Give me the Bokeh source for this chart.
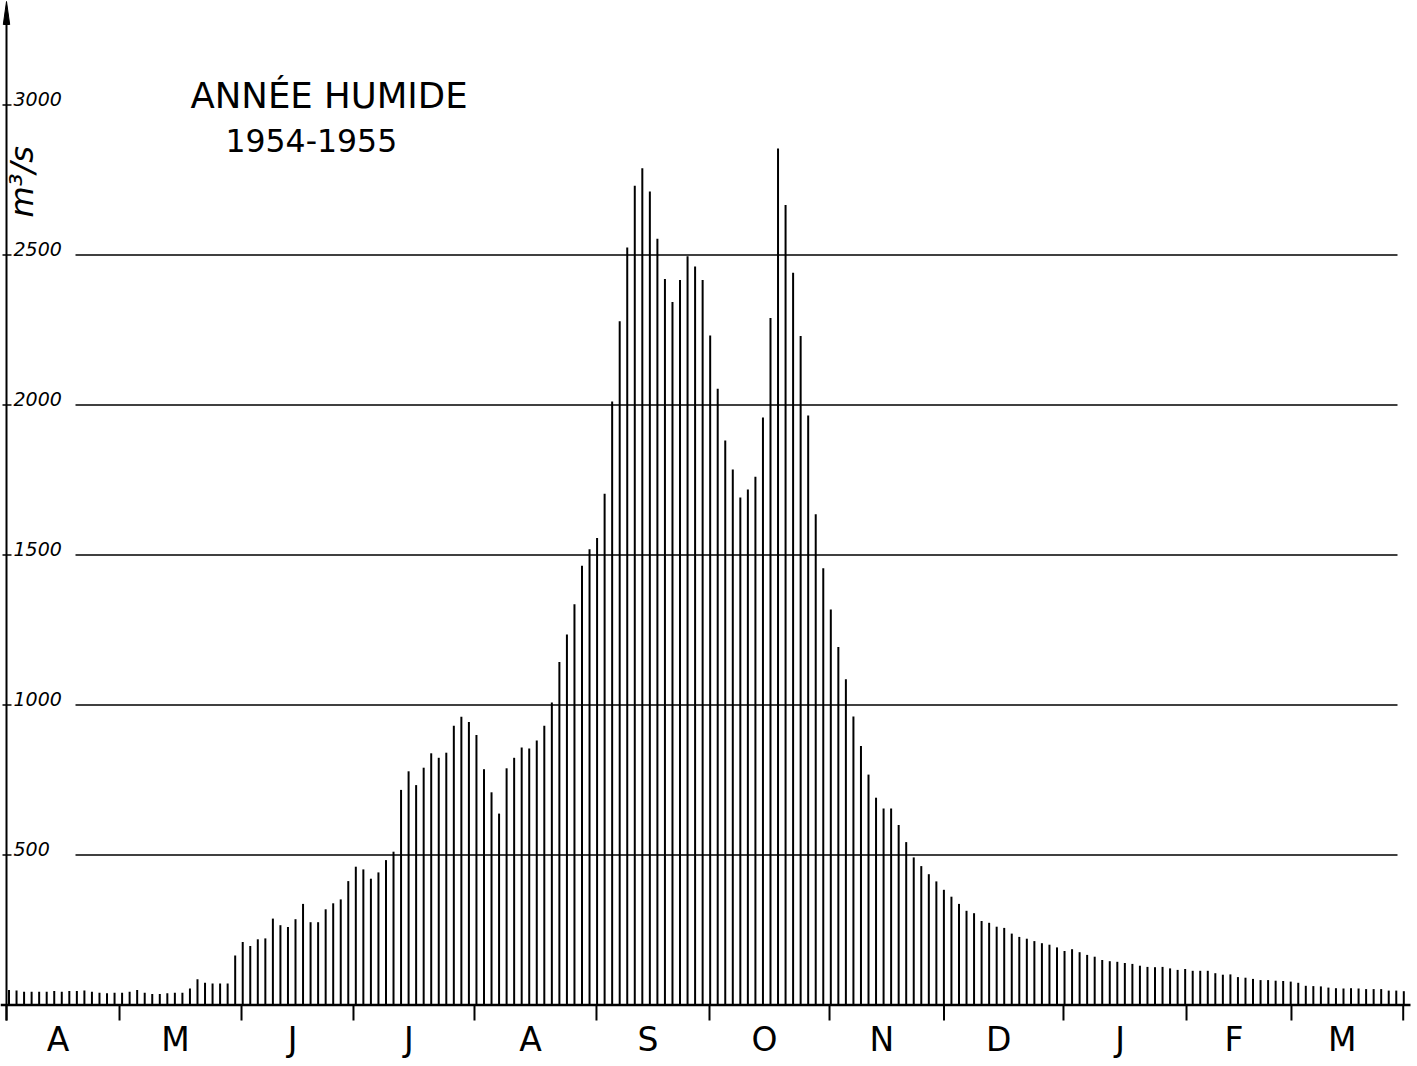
import math
from bokeh.plotting import figure
from bokeh.models import Range1d
from bokeh.core.properties import value
from bokeh.embed import file_html
from bokeh.resources import INLINE

# ---------------- data ----------------
# discharge in m3/s, one bar every 2 days, April 1954 -> March 1955
flows = [
    50, 48, 44, 44, 44, 44, 47, 44, 47, 47,
    48, 44, 41, 39, 41, 41, 44, 50, 41, 37,
    37, 39, 41, 41, 55, 86, 74, 72, 72, 72,
    165, 210, 197, 219, 222, 288, 266, 260, 286, 337,
    276, 276, 319, 339, 352, 413, 461, 452, 421, 442,
    483, 511, 717, 779, 733, 791, 839, 824, 841, 931,
    961, 943, 900, 786, 709, 638, 789, 824, 858, 855,
    882, 931, 1008, 1143, 1235, 1336, 1464, 1519, 1557, 1704,
    2012, 2279, 2525, 2731, 2789, 2712, 2554, 2420, 2343, 2417,
    2496, 2462, 2417, 2232, 2054, 1882, 1785, 1692, 1718, 1761,
    1958, 2290, 2855, 2667, 2441, 2230, 1965, 1636, 1456, 1318,
    1193, 1086, 962, 863, 768, 691, 655, 655, 600, 543,
    492, 463, 436, 412, 384, 361, 337, 314, 306, 280,
    274, 261, 257, 238, 227, 221, 213, 206, 201, 192,
    180, 186, 176, 167, 161, 150, 146, 144, 140, 137,
    131, 127, 126, 127, 122, 117, 120, 114, 114, 114,
    106, 101, 102, 93, 91, 87, 83, 83, 81, 80,
    78, 74, 64, 63, 62, 58, 56, 55, 56, 55,
    53, 53, 53, 48, 48, 46,
]
bar_index = list(range(len(flows)))

month_labels = ["A", "M", "J", "J", "A", "S", "O", "N", "D", "J", "F", "M"]
# month boundaries, in bar-index units
month_bounds = [-0.33, 14.66, 30.84, 45.69, 61.74, 77.92, 92.91,
                108.83, 124.01, 139.86, 156.18, 170.10, 184.92]

y_ticks = [500, 1000, 1500, 2000, 2500, 3000]
grid_values = [500, 1000, 1500, 2000, 2500]
y_tick_labels = [str(v) for v in y_ticks]

title_line1 = "ANNÉE HUMIDE"
title_line2 = "1954-1955"
unit_label = "m³/s"

# ---------------- layout ----------------
W, H = 1412, 1062
X0_PX = 8.5         # page x of the first bar
DX_PX = 7.5395      # page px between bars
Y0_PX = 1004.5      # page y of zero discharge
PX_PER_UNIT = 0.3   # page px per m3/s


def px_x(px):
    return (px - X0_PX) / DX_PX


def px_v(py):
    return (Y0_PX - py) / PX_PER_UNIT


FONT = value("DejaVu Sans")
INK = "black"

p = figure(width=W, height=H, output_backend="svg", toolbar_location=None,
           x_range=Range1d(px_x(0), px_x(W)),
           y_range=Range1d(px_v(H), px_v(0)),
           x_axis_type=None, y_axis_type=None, min_border=0)
p.outline_line_color = None
p.background_fill_color = "white"
p.border_fill_color = "white"

axis_x = px_x(6.0)
n_grid = len(grid_values)
n_tick = len(y_ticks)
n_mon = len(month_bounds)

# horizontal grid lines (start after the labels)
p.segment(x0=[px_x(75)] * n_grid, x1=[px_x(1397)] * n_grid,
          y0=grid_values, y1=grid_values, line_color=INK, line_width=1.4)

# bars
p.segment(x0=bar_index, y0=[0] * len(flows), x1=bar_index, y1=flows,
          line_color=INK, line_width=2)

# baseline
p.segment(x0=[px_x(0)], x1=[px_x(1410)], y0=[0], y1=[0],
          line_color=INK, line_width=2.6)

# month boundary ticks
p.segment(x0=month_bounds, x1=month_bounds, y0=[0] * n_mon,
          y1=[px_v(1020)] * n_mon, line_color=INK, line_width=2)

# month labels centred in each month (y = middle of the capitals)
centers = [(month_bounds[k] + month_bounds[k + 1]) / 2 for k in range(len(month_labels))]
p.text(x=centers, y=[px_v(1039)] * len(centers), text=month_labels,
       text_font=FONT, text_font_size="33px", text_color=INK,
       text_align="center", text_baseline="middle", x_offset=-5)

# vertical axis with arrow
p.segment(x0=[axis_x], x1=[axis_x], y0=[px_v(1020)], y1=[px_v(14)],
          line_color=INK, line_width=2)
p.patch(x=[axis_x - 3.2 / DX_PX, axis_x, axis_x + 3.2 / DX_PX],
        y=[px_v(24), px_v(1), px_v(24)], fill_color=INK, line_color=INK)

# y ticks and labels (labels sit just above their level)
p.segment(x0=[px_x(2)] * n_tick, x1=[px_x(11)] * n_tick,
          y0=y_ticks, y1=y_ticks, line_color=INK, line_width=1.5)
p.text(x=[px_x(13)] * n_tick, y=y_ticks, text=y_tick_labels,
       text_font=FONT, text_font_style="italic", text_font_size="19px",
       text_color=INK, text_align="left", text_baseline="middle", y_offset=-6)

# unit label, vertical
p.text(x=[px_x(21)], y=[px_v(217)], text=[unit_label], angle=math.pi / 2,
       text_font=FONT, text_font_style="italic", text_font_size="32px",
       text_color=INK, text_align="left", text_baseline="middle")

# title
p.text(x=[px_x(190)], y=[px_v(94.5)], text=[title_line1],
       text_font=FONT, text_font_size="35.5px", text_color=INK,
       text_align="left", text_baseline="middle")
p.text(x=[px_x(225)], y=[px_v(139.5)], text=[title_line2],
       text_font=FONT, text_font_size="31.5px", text_color=INK,
       text_align="left", text_baseline="middle")

open("out.html", "w").write(file_html(p, INLINE))
